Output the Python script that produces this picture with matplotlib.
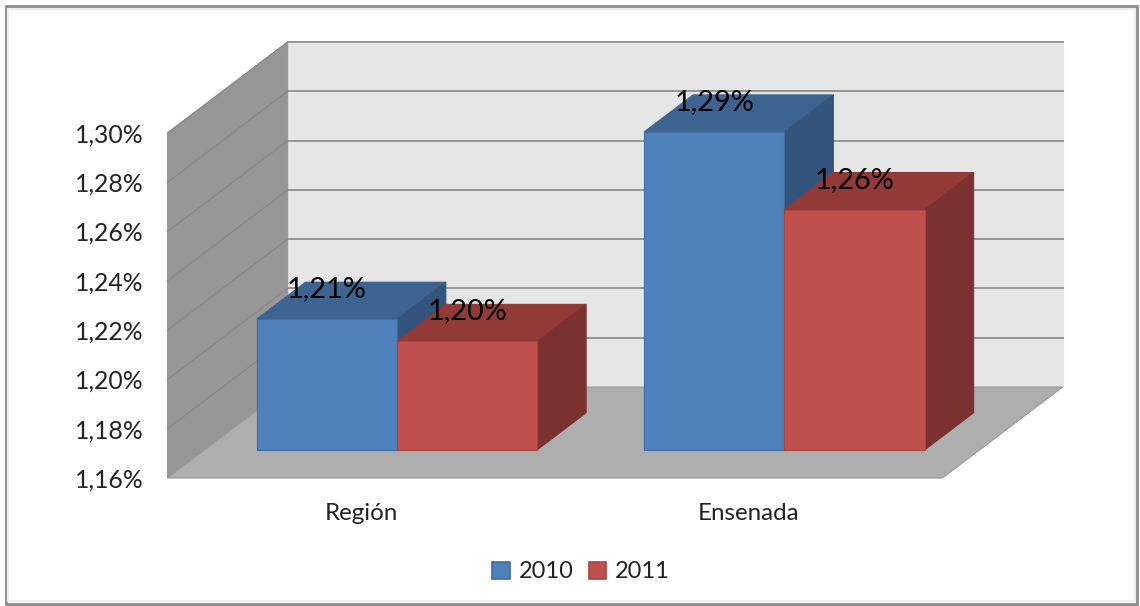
import matplotlib
matplotlib.use("Agg")
import matplotlib.pyplot as plt
from matplotlib.patches import Patch, Polygon, Rectangle
import numpy as np

categories = ["Región", "Ensenada"]
years = ["2010", "2011"]
values_2010 = [1.213, 1.289]
values_2011 = [1.204, 1.2575]
y_ticks = [1.16, 1.18, 1.20, 1.22, 1.24, 1.26, 1.28, 1.30]

W, H = 1140, 606
plt.rcParams["font.family"] = ["Lato", "DejaVu Sans"]

# depth of the fake 3d box, in data units
DEPTH_X = 0.31
DEPTH_Y = 0.0369
BAR_W = 0.362
BAR_D0 = 0.31
BAR_D1 = 0.717
BAR_SHIFT = -0.004

WALL = "#969696"
WALL_GRID = "#8A8A8A"
BACK = "#E6E6E6"
FLOOR = "#AEAEAE"
GRID = "#959595"
colors = {"2010": ("#4F81BD", "#3D6390", "#33547C", "#3F6CA3"),
          "2011": ("#C0504D", "#923A38", "#7B312F", "#A84542")}


def proj(x, v, d):
    return (x + d * DEPTH_X, v + d * DEPTH_Y)


def face(ax, pts, color, edge=None, z=2, lw=0.8):
    ax.add_patch(Polygon(pts, closed=True, facecolor=color, edgecolor=edge or color,
                         linewidth=lw, zorder=z, clip_on=False))


def draw_bar(ax, left, val, year):
    front, top, side, edge = colors[year]
    base = y_ticks[0]
    right = left + BAR_W
    face(ax, [proj(left, val, BAR_D0), proj(right, val, BAR_D0),
              proj(right, val, BAR_D1), proj(left, val, BAR_D1)], top, z=3)
    face(ax, [proj(right, base, BAR_D0), proj(right, val, BAR_D0),
              proj(right, val, BAR_D1), proj(right, base, BAR_D1)], side, z=3)
    face(ax, [proj(left, base, BAR_D0), proj(right, base, BAR_D0),
              proj(right, val, BAR_D0), proj(left, val, BAR_D0)], front, edge=edge, z=3)


fig = plt.figure(figsize=(W / 100, H / 100), dpi=100, facecolor="white")
ax = fig.add_axes([167.5 / W, 1 - 478 / H, 775 / W, 345 / H])
ax.set_xlim(-0.5, 1.5)
ax.set_ylim(y_ticks[0], y_ticks[-1])
ax.patch.set_visible(False)
for s in ax.spines.values():
    s.set_visible(False)

x0, x1 = ax.get_xlim()
y0, y1 = ax.get_ylim()

# walls and floor
face(ax, [proj(x0, y0, 1), proj(x1, y0, 1), proj(x1, y1, 1), proj(x0, y1, 1)], BACK, z=1)
face(ax, [proj(x0, y0, 0), proj(x0, y0, 1), proj(x0, y1, 1), proj(x0, y1, 0)], WALL, z=1)
face(ax, [proj(x0, y0, 0), proj(x1, y0, 0), proj(x1, y0, 1), proj(x0, y0, 1)], FLOOR, edge="#9A9A9A", z=1.5)

for t in y_ticks[1:]:
    ax.plot(*zip(proj(x0, t, 1), proj(x1, t, 1)), color=GRID, lw=1.4, zorder=1.2, clip_on=False)
    ax.plot(*zip(proj(x0, t, 0), proj(x0, t, 1)), color=WALL_GRID, lw=1.0, zorder=1.2, clip_on=False)

# bars and value labels
for i in range(len(categories)):
    left = i - BAR_W + BAR_SHIFT
    for year, vals, l in zip(years, (values_2010, values_2011), (left, left + BAR_W)):
        draw_bar(ax, l, vals[i], year)
        cx, cy = proj(l + BAR_W / 2, vals[i], BAR_D0)
        ax.annotate(f"{vals[i]:.2f}%".replace(".", ","), xy=(cx, cy), xytext=(0, 21.5),
                    textcoords="offset points", ha="center", va="center",
                    fontsize=20.8, color="black", zorder=5, annotation_clip=False)

ax.set_yticks(y_ticks)
ax.set_yticklabels([f"{t:.2f}%".replace(".", ",") for t in y_ticks], fontsize=17.8, color="#222222")
ax.set_xticks(np.arange(len(categories)))
ax.set_xticklabels(categories, fontsize=17.4, color="#222222")
ax.tick_params(axis="y", length=0, pad=17)
ax.tick_params(axis="x", length=0, pad=18)

handles = [Patch(facecolor=colors[y][0], edgecolor=colors[y][3], linewidth=1.2, label=y) for y in years]
fig.legend(handles=handles, ncol=2, loc="center", bbox_to_anchor=(581 / W, 1 - 572 / H),
           frameon=False, fontsize=17, handlelength=0.75, handleheight=0.75,
           handletextpad=0.35, columnspacing=0.65, labelcolor="#222222")

# outer chart frame
fig.add_artist(Rectangle((5.5 / W, 1 - 603.5 / H), 1131 / W, 597.5 / H, transform=fig.transFigure,
                         fill=False, edgecolor="#8C8C8C", linewidth=2))
fig.add_artist(Rectangle((8 / W, 1 - 600.5 / H), 1126.5 / W, 592 / H, transform=fig.transFigure,
                         fill=False, edgecolor="#EDEDED", linewidth=1.5))

fig.savefig("out.png", dpi=100)
